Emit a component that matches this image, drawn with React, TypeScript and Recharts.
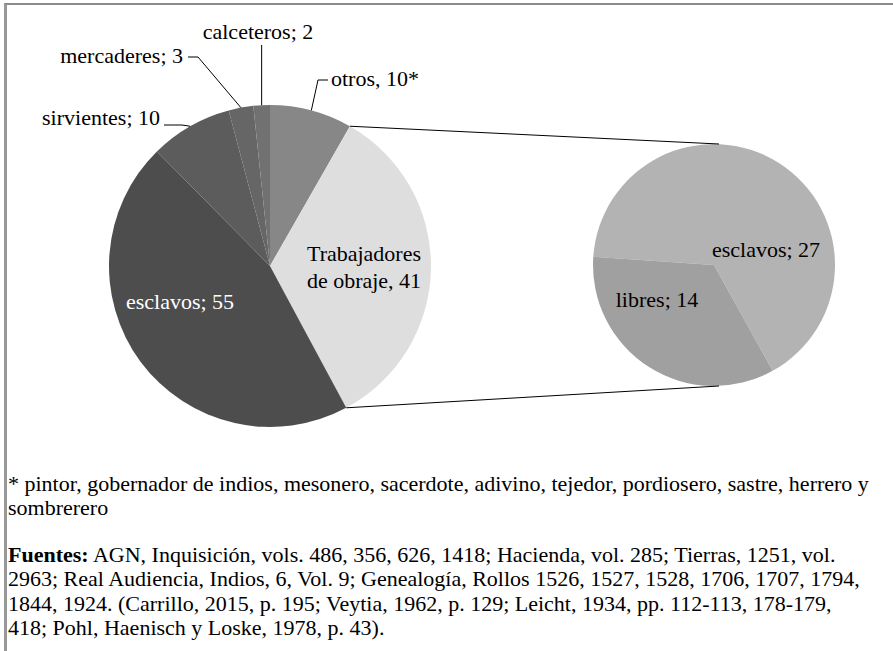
import React from "react";
import { PieChart, Pie, Cell } from "recharts";

// main pie, clockwise from 12 o'clock
const mainCategories = ["otros", "Trabajadores de obraje", "esclavos", "sirvientes", "mercaderes", "calceteros"];
const mainValues = [10, 41, 55, 10, 3, 2];
const mainColors = ["#878787", "#dedede", "#4d4d4d", "#5c5c5c", "#666666", "#717171"];

// breakdown of "Trabajadores de obraje"
const subCategories = ["esclavos", "libres"];
const subValues = [27, 14];
const subColors = ["#b3b3b3", "#a0a0a0"];

const FONT = '"Liberation Serif", monospace';
const FS = 22;

const MAIN = { cx: 270, cy: 266, r: 161 };
const SUB = { cx: 714, cy: 265, r: 121 };

const RAD = Math.PI / 180;
function polar(cx: number, cy: number, r: number, angle: number) {
  return { x: cx + r * Math.cos(-angle * RAD), y: cy + r * Math.sin(-angle * RAD) };
}

// label placement, offsets from the pie centre
const mainLabelLayout: Record<string, any> = {
  otros: { kind: "out", elbow: [48, -186], end: [58, -186], text: [61, -180], anchor: "start" },
  "Trabajadores de obraje": { kind: "in", text: [94, -5], anchor: "middle" },
  esclavos: { kind: "in", text: [-90, 43], anchor: "middle", fill: "#ffffff" },
  sirvientes: { kind: "out", elbow: [-88, -141], end: [-106, -141], text: [-110, -141], anchor: "end" },
  mercaderes: { kind: "out", elbow: [-72, -209], end: [-82, -209], text: [-87, -203], anchor: "end" },
  calceteros: { kind: "out", elbow: [-10, -221], end: [-10, -221], text: [-12, -227], anchor: "middle" },
};

const subLabelLayout: Record<string, any> = {
  esclavos: [52, -8],
  libres: [-57, 42],
};

function mainLabelText(name: string, value: number) {
  if (name === "otros") return `${name}, ${value}*`;
  return `${name}; ${value}`;
}

function MainLabel(props: any) {
  const { cx, cy, midAngle, outerRadius, startAngle, endAngle, name, value } = props;
  const lay = mainLabelLayout[name];
  if (!lay) return null;
  const tx = cx + lay.text[0];
  const ty = cy + lay.text[1];

  if (name === "Trabajadores de obraje") {
    const a = polar(cx, cy, outerRadius, startAngle);
    const b = polar(cx, cy, outerRadius, endAngle);
    return (
      <g>
        <line x1={a.x} y1={a.y} x2={SUB.cx + 5} y2={SUB.cy - SUB.r} stroke="#000" strokeWidth={1} />
        <line x1={b.x} y1={b.y} x2={SUB.cx + 5} y2={SUB.cy + SUB.r} stroke="#000" strokeWidth={1} />
        <text x={tx} y={ty} textAnchor="middle" style={{ fontFamily: FONT, fontSize: FS }} fill="#000">
          <tspan x={tx}>Trabajadores</tspan>
          <tspan x={tx} dy={27}>de obraje, {value}</tspan>
        </text>
      </g>
    );
  }

  if (lay.kind === "in") {
    return (
      <text x={tx} y={ty} textAnchor={lay.anchor} style={{ fontFamily: FONT, fontSize: FS }} fill={lay.fill || "#000"}>
        {mainLabelText(name, value)}
      </text>
    );
  }

  const p = polar(cx, cy, outerRadius, midAngle);
  const ex = name === "calceteros" ? p.x : cx + lay.elbow[0];
  const ey = cy + lay.elbow[1];
  const endX = name === "calceteros" ? p.x : cx + lay.end[0];
  return (
    <g>
      <polyline
        points={`${p.x},${p.y} ${ex},${ey} ${endX},${cy + lay.end[1]}`}
        fill="none"
        stroke="#000"
        strokeWidth={1}
      />
      <text x={tx} y={ty} textAnchor={lay.anchor} style={{ fontFamily: FONT, fontSize: FS }} fill="#000">
        {mainLabelText(name, value)}
      </text>
    </g>
  );
}

function SubLabel(props: any) {
  const { cx, cy, name, value } = props;
  const off = subLabelLayout[name];
  return (
    <text x={cx + off[0]} y={cy + off[1]} textAnchor="middle" style={{ fontFamily: FONT, fontSize: FS }} fill="#000">
      {name}; {value}
    </text>
  );
}

const mainData = mainCategories.map((name, i) => ({ name, value: mainValues[i] }));
const subData = subCategories.map((name, i) => ({ name, value: subValues[i] }));

export default function App() {
  return (
    <div style={{ position: "absolute", left: 0, top: 0, width: 893, height: 651, background: "#fff", overflow: "hidden", fontFamily: FONT }}>
      <div
        style={{
          position: "absolute",
          left: 4,
          top: 3,
          width: 889,
          height: 648,
          borderTop: "2px solid #8a8a8a",
          borderLeft: "3px solid #999999",
          boxSizing: "border-box",
        }}
      />
      <div style={{ position: "absolute", left: 0, top: 0 }}>
        <PieChart width={893} height={450} margin={{ top: 0, right: 0, bottom: 0, left: 0 }}>
          <Pie
            data={mainData}
            dataKey="value"
            nameKey="name"
            cx={MAIN.cx}
            cy={MAIN.cy}
            outerRadius={MAIN.r}
            startAngle={90}
            endAngle={-270}
            stroke="none"
            label={MainLabel}
            labelLine={false}
            isAnimationActive={false}
          >
            {mainData.map((d, i) => (
              <Cell key={d.name} fill={mainColors[i]} stroke="none" />
            ))}
          </Pie>
          <Pie
            data={subData}
            dataKey="value"
            nameKey="name"
            cx={SUB.cx}
            cy={SUB.cy}
            outerRadius={SUB.r}
            startAngle={-61}
            endAngle={299}
            stroke="none"
            label={SubLabel}
            labelLine={false}
            isAnimationActive={false}
          >
            {subData.map((d, i) => (
              <Cell key={d.name} fill={subColors[i]} stroke="none" />
            ))}
          </Pie>
        </PieChart>
      </div>
      <div
        style={{
          position: "absolute",
          left: 8,
          top: 472,
          fontFamily: FONT,
          fontSize: FS,
          lineHeight: "24.4px",
          color: "#000",
          whiteSpace: "nowrap",
        }}
      >
        <div>* pintor, gobernador de indios, mesonero, sacerdote, adivino, tejedor, pordiosero, sastre, herrero y</div>
        <div>sombrerero</div>
        <div style={{ marginTop: 22 }}>
          <b>Fuentes:</b> AGN, Inquisición, vols. 486, 356, 626, 1418; Hacienda, vol. 285; Tierras, 1251, vol.
        </div>
        <div>2963; Real Audiencia, Indios, 6, Vol. 9; Genealogía, Rollos 1526, 1527, 1528, 1706, 1707, 1794,</div>
        <div>1844, 1924. (Carrillo, 2015, p. 195; Veytia, 1962, p. 129; Leicht, 1934, pp. 112-113, 178-179,</div>
        <div>418; Pohl, Haenisch y Loske, 1978, p. 43).</div>
      </div>
    </div>
  );
}
